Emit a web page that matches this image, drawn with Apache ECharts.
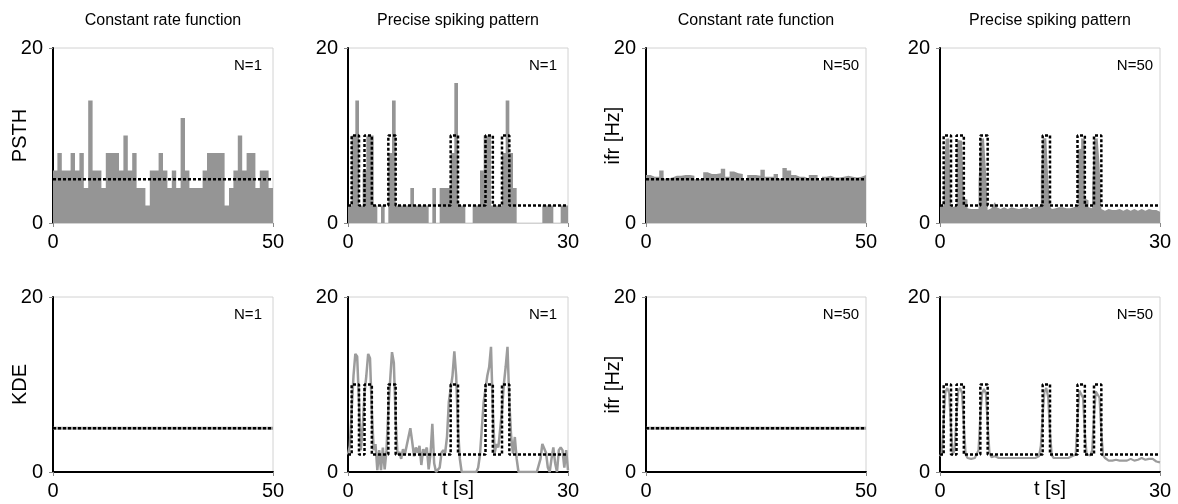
<!DOCTYPE html>
<html>
<head>
<meta charset="utf-8">
<script src="https://cdn.jsdelivr.net/npm/echarts@6/dist/echarts.min.js"></script>
<style>
  html, body { margin: 0; padding: 0; background: #fff; }
  #chart { width: 1178px; height: 504px; }
</style>
</head>
<body>
<div id="chart"></div>
<script>
// ---- labels ----
const columnTitles = ['Constant rate function', 'Precise spiking pattern', 'Constant rate function', 'Precise spiking pattern'];
const trialLabels = ['N=1', 'N=1', 'N=50', 'N=50'];
const yNamesTop = ['PSTH', '', 'ifr [Hz]', ''];
const yNamesBottom = ['KDE', '', 'ifr [Hz]', ''];
const timeAxisName = 't [s]';
const durations = [50, 30, 50, 30];          // seconds per column
const rateMax = 20;

// ---- underlying rate functions ----
const constRate = 5;
const baseRate = 2;
const pulseRate = 10;
const pulseOn  = [0.5, 2.25, 5.5, 14, 18.75, 21];
const pulseOff = [1.5, 3.25, 6.5, 15, 19.75, 22];

// ---- PSTH, single trial, constant rate (1 s bins) ----
const psthConstN1 = [6, 8, 6, 6, 8, 6, 8, 4, 14, 6, 6, 4, 8, 8, 8, 6, 10, 6, 8, 4,
  4, 2, 6, 6, 8, 6, 4, 6, 4, 12, 6, 4, 4, 4, 6, 8, 8, 8, 8, 2,
  4, 6, 10, 6, 8, 8, 4, 6, 6, 4];

// ---- PSTH, single trial, spiking pattern (0.5 s bins) ----
const psthPatternN1 = [2, 10, 14, 2, 6, 10, 10, 2, 0, 2, 0, 8, 14, 2, 2, 2, 2, 4, 2, 2,
  2, 2, 0, 4, 0, 4, 4, 4, 8, 16, 2, 2, 0, 0, 2, 2, 6, 10, 10, 2,
  2, 2, 8, 14, 8, 4, 0, 0, 0, 0, 0, 0, 0, 2, 2, 2, 0, 0, 2, 2];

// ---- mean instantaneous firing rate, 50 trials, constant rate (1 s bins) ----
const ifrConstN50 = [5.5, 5.3, 5.3, 6.0, 5.1, 5.2, 5.4, 5.4, 5.5, 5.5, 5.4, 5.0, 5.1, 5.8, 5.6, 5.6, 5.7, 6.2, 5.3, 5.9,
  5.7, 5.6, 4.9, 5.5, 5.5, 5.4, 6.1, 5.3, 5.3, 5.6, 5.1, 6.3, 6.0, 5.5, 5.3, 5.3, 5.1, 5.5, 5.5, 4.9,
  5.3, 5.4, 5.2, 5.2, 5.3, 5.4, 5.3, 5.2, 5.3, 5.5];

// ---- mean instantaneous firing rate, 50 trials, spiking pattern (0.25 s bins) ----
const ifrPatternN50 = [1.9, 2.0, 4.5, 9.6, 9.7, 9.4, 2.2, 1.8, 2.0, 9.0,
  9.5, 9.4, 9.2, 2.8, 2.7, 1.7, 1.6, 1.5, 1.6, 1.7,
  1.6, 4.5, 9.6, 9.7, 9.5, 6.2, 1.5, 1.7, 1.9, 2.1,
  2.4, 1.8, 1.6, 1.7, 1.8, 1.7, 1.6, 1.7, 1.8, 1.6,
  1.7, 1.7, 1.6, 1.8, 1.7, 1.7, 1.8, 1.7, 1.6, 1.7,
  1.8, 1.7, 1.8, 1.9, 2.0, 5.3, 9.7, 9.7, 9.6, 5.2,
  1.9, 1.6, 1.7, 1.7, 1.8, 1.7, 1.8, 1.6, 1.7, 1.8,
  1.7, 1.6, 1.8, 1.9, 2.0, 8.4, 8.5, 9.7, 9.6, 2.8,
  2.6, 1.8, 1.7, 4.0, 9.6, 9.7, 9.6, 6.8, 1.6, 1.4,
  1.5, 1.6, 1.4, 1.5, 1.6, 1.5, 1.4, 1.6, 1.5, 1.4,
  1.5, 1.6, 1.5, 1.4, 1.5, 1.6, 1.5, 1.4, 1.5, 1.6,
  1.5, 1.4, 1.5, 1.6, 1.4, 1.5, 1.4, 1.5, 1.4, 1.3];

// ---- kernel density estimates (samples evenly spaced over the trial) ----
const kdeConstN1 = [5.0, 5.0, 5.0, 5.0, 5.0, 5.0];
const kdeConstN50 = [5.0, 5.0, 5.0, 5.0, 5.0, 5.0];

const kdePatternN1 = [2.0, 3.0, 7.0, 11.0, 13.5, 13.2, 8.0, 2.5, 5.0, 9.0, 11.0,
  13.5, 13.0, 7.0, 2.5, 3.2, 0.2, 2.5, 0.2, 2.8, 0.3,
  2.5, 7.0, 10.5, 13.7, 12.5, 6.0, 2.0, 2.3, 1.5, 2.6,
  2.0, 3.0, 4.0, 5.0, 3.5, 1.8, 2.8, 2.2, 3.0, 0.8,
  2.6, 2.2, 2.8, 0.3, 2.0, 5.5, 1.0, 0.0, 0.0, 0.5,
  2.2, 2.5, 2.2, 4.0, 8.0, 9.5, 11.0, 13.8, 11.0, 5.0,
  1.5, 0.0, 0.0, 0.0, 0.0, 0.0, 0.0, 0.0, 0.0, 0.0,
  0.5, 2.0, 5.0, 8.0, 9.5, 11.0, 12.0, 14.3, 7.0, 2.2,
  3.2, 2.8, 3.0, 7.0, 10.0, 12.0, 14.3, 8.0, 4.0, 2.1,
  4.0, 1.5, 0.0, 0.0, 0.0, 0.0, 0.0, 0.0, 0.0, 0.0,
  0.0, 0.0, 0.0, 0.0, 1.5, 3.2, 3.0, 2.2, 0.5, 0.0,
  1.5, 2.8, 1.0, 0.0, 2.5, 2.8, 2.5, 0.5, 2.5, 0.2];

const kdePatternN50 = [1.8, 2.2, 6.0, 9.2, 9.6, 9.0, 5.0, 2.0, 2.5, 6.5, 9.3,
  9.6, 9.0, 5.5, 2.0, 1.6, 1.4, 1.5, 1.7, 1.6, 1.8,
  2.5, 6.5, 9.0, 9.5, 9.0, 5.5, 2.2, 1.7, 1.6, 1.8,
  1.7, 1.6, 1.7, 1.6, 1.7, 1.6, 1.5, 1.6, 1.7, 1.6,
  1.5, 1.6, 1.7, 1.6, 1.5, 1.6, 1.5, 1.6, 1.5, 1.6,
  1.7, 1.6, 1.7, 1.8, 3.0, 6.5, 9.2, 9.6, 8.5, 4.5,
  1.9, 1.6, 1.7, 1.6, 1.5, 1.6, 1.7, 1.6, 1.7, 1.6,
  1.7, 1.8, 1.9, 2.0, 6.0, 9.3, 9.5, 8.5, 4.5, 2.0,
  1.8, 1.9, 2.5, 6.5, 9.2, 9.4, 8.5, 4.5, 1.9, 1.6,
  1.5, 1.3, 1.4, 1.3, 1.5, 1.4, 1.2, 1.3, 1.4, 1.3,
  1.2, 1.3, 1.4, 1.5, 1.4, 1.3, 1.2, 1.4, 1.5, 1.6,
  1.5, 1.4, 1.3, 1.5, 1.6, 1.5, 1.4, 1.2, 1.3, 1.1];

// ---- styling ----
const FONT = '"Liberation Sans", Arial, Helvetica, sans-serif';
const GREY_FILL = '#959595';
const GREY_LINE = '#9c9c9c';
const plotLefts = [53, 348, 646, 940];
const plotTops = [48, 297];
const plotW = 220, plotH = 175;

// Histogram-like data: one point per bin start plus the closing edge.
function binSteps(values, duration) {
  const w = duration / values.length;
  const pts = values.map((v, k) => [k * w, v]);
  pts.push([duration, values[values.length - 1]]);
  return pts;
}
// Evenly sampled curve over [0, duration].
function sampled(values, duration) {
  const dt = duration / (values.length - 1);
  return values.map((v, k) => [k * dt, v]);
}
function constantRate(duration) {
  return [[0, constRate], [duration, constRate]];
}
function pulseRateFn(duration) {
  const pts = [[0, baseRate]];
  pulseOn.forEach((on, i) => {
    pts.push([on, baseRate], [on, pulseRate], [pulseOff[i], pulseRate], [pulseOff[i], baseRate]);
  });
  pts.push([duration, baseRate]);
  return pts;
}

const grids = [], xAxes = [], yAxes = [], series = [], titles = [];

for (let row = 0; row < 2; row++) {
  for (let col = 0; col < 4; col++) {
    const i = row * 4 + col;
    const dur = durations[col];
    grids.push({
      left: plotLefts[col], top: plotTops[row], width: plotW, height: plotH,
      containLabel: false, outerBoundsMode: 'none',
      show: true, borderColor: '#d2d2d2', borderWidth: 1, backgroundColor: 'transparent'
    });
    xAxes.push({
      gridIndex: i, type: 'value', min: 0, max: dur, interval: dur,
      axisLine: { show: true, lineStyle: { color: row === 0 ? '#d2d2d2' : '#000', width: row === 0 ? 1 : 2 } },
      axisTick: { show: true, length: 4, lineStyle: { color: '#888' } },
      axisLabel: { fontSize: 20, color: '#000', fontFamily: FONT, margin: 9 },
      splitLine: { show: false },
      name: (row === 1 && (col === 1 || col === 3)) ? timeAxisName : '',
      nameLocation: 'middle', nameGap: 7, nameMoveOverlap: false,
      nameTextStyle: { fontSize: 20, color: '#000', fontFamily: FONT }
    });
    yAxes.push({
      gridIndex: i, type: 'value', min: 0, max: rateMax, interval: rateMax,
      axisLine: { show: true, lineStyle: { color: '#000', width: 2 } },
      axisTick: { show: true, length: 4, lineStyle: { color: '#888' } },
      axisLabel: { fontSize: 20, color: '#000', fontFamily: FONT, margin: 10 },
      splitLine: { show: false },
      name: row === 0 ? yNamesTop[col] : yNamesBottom[col],
      nameLocation: 'middle', nameGap: 23, nameMoveOverlap: false,
      nameTextStyle: { fontSize: 20, color: '#000', fontFamily: FONT }
    });
    titles.push({
      text: trialLabels[col], left: plotLefts[col] + 195, top: plotTops[row] + 10,
      textAlign: 'center', padding: 0,
      textStyle: { fontSize: 15, fontWeight: 'normal', color: '#000', fontFamily: FONT }
    });
    if (row === 0) {
      titles.push({
        text: columnTitles[col], left: plotLefts[col] + plotW / 2, top: 13,
        textAlign: 'center', padding: 0,
        textStyle: { fontSize: 16, fontWeight: 'normal', color: '#000', fontFamily: FONT }
      });
    }
  }
}

function area(i, data) {
  return { type: 'line', xAxisIndex: i, yAxisIndex: i, step: 'end', symbol: 'none', silent: true,
    lineStyle: { width: 0 }, areaStyle: { color: GREY_FILL, opacity: 1 }, data, z: 2 };
}
function curve(i, data, width) {
  return { type: 'line', xAxisIndex: i, yAxisIndex: i, symbol: 'none', silent: true,
    lineStyle: { color: GREY_LINE, width }, data, z: 3 };
}
function rateLine(i, data) {
  return { type: 'line', xAxisIndex: i, yAxisIndex: i, symbol: 'none', silent: true,
    lineStyle: { color: '#000', width: 2.5, type: [3, 2] }, data, z: 5 };
}

// top row: histograms / averaged ifr
series.push(area(0, binSteps(psthConstN1, durations[0])), rateLine(0, constantRate(durations[0])));
series.push(area(1, binSteps(psthPatternN1, durations[1])), rateLine(1, pulseRateFn(durations[1])));
series.push(area(2, binSteps(ifrConstN50, durations[2])), rateLine(2, constantRate(durations[2])));
series.push(area(3, binSteps(ifrPatternN50, durations[3])), rateLine(3, pulseRateFn(durations[3])));
// bottom row: kernel density estimates
series.push(curve(4, sampled(kdeConstN1, durations[0]), 3), rateLine(4, constantRate(durations[0])));
series.push(curve(5, sampled(kdePatternN1, durations[1]), 2.5), rateLine(5, pulseRateFn(durations[1])));
series.push(curve(6, sampled(kdeConstN50, durations[2]), 3), rateLine(6, constantRate(durations[2])));
series.push(curve(7, sampled(kdePatternN50, durations[3]), 2.2), rateLine(7, pulseRateFn(durations[3])));

const chart = echarts.init(document.getElementById('chart'), null, { renderer: 'canvas' });
chart.setOption({
  animation: false,
  backgroundColor: '#fff',
  textStyle: { fontFamily: FONT },
  title: titles,
  grid: grids,
  xAxis: xAxes,
  yAxis: yAxes,
  series
});
</script>
</body>
</html>
